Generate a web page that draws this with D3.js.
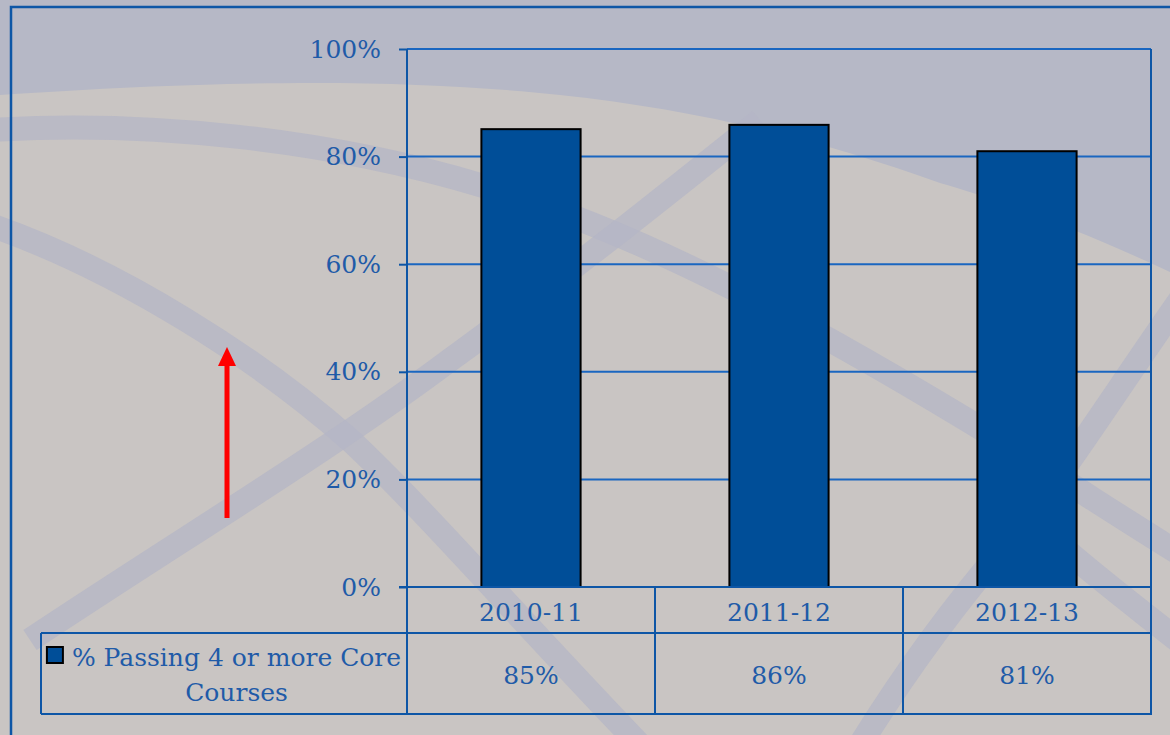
<!DOCTYPE html>
<html><head><meta charset="utf-8">
<script src="https://cdn.jsdelivr.net/npm/d3@7"></script>
<style>body{margin:0;overflow:hidden;background:#c9c5c3}svg{display:block}
text{font-family:"DejaVu Serif",serif !important;font-size:25px}</style>
</head><body>
<svg id="c" width="1170" height="735"></svg>
<script>
const categories = ["2010-11", "2011-12", "2012-13"];
const values = [85.1, 85.9, 81.0];
const tableLabels = ["85%", "86%", "81%"];
const yTicks = [0, 20, 40, 60, 80, 100];
const seriesName = "% Passing 4 or more Core Courses";

(function () {
const svg = d3.select("#c");
const W = 1170, H = 735;
const frame = "#0d56a6", grid = "#1a66c0", txt = "#1f5ba8";

// background
svg.append("rect").attr("width", W).attr("height", H).attr("fill", "#c9c5c3");
svg.append("path").attr("fill", "#b6b8c6")
  .attr("d", "M0,0 L1170,0 L1170,272 C1080,230 1000,200 940,183 C820,140 700,110 560,95 C420,80 250,78 0,95 Z");
const bands = [
  "M-10,130 C150,120 330,140 480,185 C650,235 820,330 1000,440 C1080,490 1140,530 1190,560",
  "M-10,225 C120,270 260,360 350,440 C420,505 520,620 640,745",
  "M30,640 C180,540 330,450 450,360 C560,280 660,200 760,120",
  "M860,745 C900,680 950,610 1010,540 C1060,480 1110,400 1180,300",
  "M1060,545 C1100,580 1140,610 1190,650"
];
svg.append("g").selectAll("path").data(bands).join("path")
  .attr("d", d => d).attr("fill", "none").attr("stroke", "#b4b6c6").attr("stroke-width", 24).attr("opacity", 0.75);

// outer frame
svg.append("rect").attr("x", 11).attr("y", 7).attr("width", 1200).attr("height", 760)
  .attr("fill", "none").attr("stroke", frame).attr("stroke-width", 2.5);

const pLeft = 407, pRight = 1151, pTop = 49, pBottom = 587;
const row1 = 633, row2 = 714, legendLeft = 41;

const x = d3.scaleBand().domain(categories).range([pLeft, pRight]).padding(0);
const y = d3.scaleLinear().domain([0, 100]).range([pBottom, pTop]);

// gridlines
svg.append("g").selectAll("line").data(yTicks.filter(d => d > 0)).join("line")
  .attr("x1", pLeft).attr("x2", pRight).attr("y1", d => y(d)).attr("y2", d => y(d))
  .attr("stroke", grid).attr("stroke-width", 2);

// y axis
const yAxis = svg.append("g").attr("transform", `translate(${pLeft},0)`)
  .call(d3.axisLeft(y).tickValues(yTicks).tickSize(8).tickPadding(18).tickFormat(d => d + "%"));
yAxis.attr("font-family", null).attr("font-size", null);
yAxis.select(".domain").remove();
yAxis.selectAll(".tick line").attr("stroke", frame).attr("stroke-width", 2);
yAxis.selectAll(".tick text").attr("fill", txt);

// bars
const bw = x.bandwidth() * 0.4;
svg.append("g").selectAll("rect").data(categories).join("rect")
  .attr("x", d => x(d) + (x.bandwidth() - bw) / 2)
  .attr("y", (d, i) => y(values[i]))
  .attr("width", bw)
  .attr("height", (d, i) => y(0) - y(values[i]))
  .attr("fill", "#004e98").attr("stroke", "#000").attr("stroke-width", 2);

// table lines
const lines = svg.append("g").attr("stroke", frame).attr("stroke-width", 2).attr("fill", "none");
lines.append("line").attr("x1", pLeft).attr("x2", pLeft).attr("y1", pTop).attr("y2", row2);
lines.append("line").attr("x1", pRight).attr("x2", pRight).attr("y1", pTop).attr("y2", row2 + 1);
lines.append("line").attr("x1", pLeft - 8).attr("x2", pRight).attr("y1", pBottom).attr("y2", pBottom);
lines.append("line").attr("x1", legendLeft).attr("x2", pRight).attr("y1", row1).attr("y2", row1);
lines.append("line").attr("x1", legendLeft).attr("x2", pRight).attr("y1", row2).attr("y2", row2);
lines.append("line").attr("x1", legendLeft).attr("x2", legendLeft).attr("y1", row1).attr("y2", row2);
lines.selectAll(".sep").data(categories.slice(1)).join("line").attr("class", "sep")
  .attr("x1", d => x(d)).attr("x2", d => x(d)).attr("y1", pBottom).attr("y2", row2);

// category labels
svg.append("g").selectAll("text").data(categories).join("text")
  .attr("x", d => x(d) + x.bandwidth() / 2).attr("y", 621)
  .attr("text-anchor", "middle").attr("fill", txt).text(d => d);

// value labels
svg.append("g").selectAll("text").data(categories).join("text")
  .attr("x", d => x(d) + x.bandwidth() / 2).attr("y", 684)
  .attr("text-anchor", "middle").attr("fill", txt).text((d, i) => tableLabels[i]);

// legend
const words = seriesName.split(" ");
const line1 = words.slice(0, 6).join(" "), line2 = words.slice(6).join(" ");
const lg = svg.append("g");
const t1 = lg.append("text").attr("y", 666).attr("fill", txt).text(line1);
const w1 = t1.node().getComputedTextLength();
const sq = 17, gap = 8;
const total = sq + gap + w1;
const cx = (legendLeft + pLeft) / 2;
const sx = cx - total / 2;
t1.attr("x", sx + sq + gap);
lg.append("rect").attr("x", sx).attr("y", 647).attr("width", sq - 1).attr("height", sq - 1)
  .attr("fill", "#004e98").attr("stroke", "#000").attr("stroke-width", 2);
lg.append("text").attr("x", sx + sq + gap + w1 / 2).attr("y", 701).attr("text-anchor", "middle")
  .attr("fill", txt).text(line2);

// red arrow
svg.append("line").attr("x1", 227).attr("x2", 227).attr("y1", 518).attr("y2", 362)
  .attr("stroke", "#ff0000").attr("stroke-width", 5);
svg.append("path").attr("d", "M227,347 L236,366 L218,366 Z").attr("fill", "#ff0000");
})();
</script>
</body></html>
